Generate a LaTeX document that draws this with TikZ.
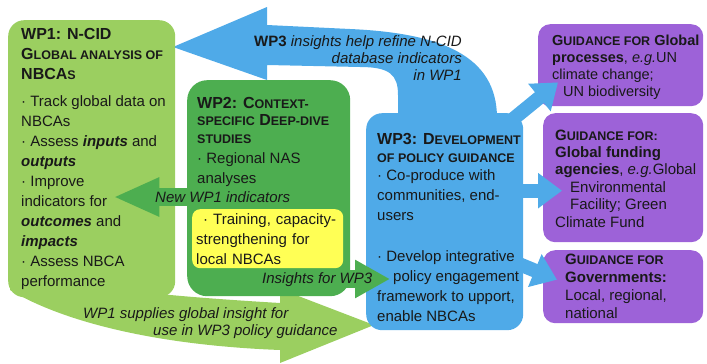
\documentclass[tikz,border=0pt]{standalone}
\usepackage{fontspec}
\setmainfont{Liberation Sans}
\usetikzlibrary{arrows.meta,calc}
\pgfdeclarelayer{background}
\pgfsetlayers{background,main}

\definecolor{wpone}{RGB}{155,207,96}
\definecolor{wptwo}{RGB}{77,174,80}
\definecolor{wpthree}{RGB}{79,170,232}
\definecolor{guide}{RGB}{157,98,216}
\definecolor{hilite}{RGB}{255,255,85}
\definecolor{ink}{RGB}{25,25,25}
\newcommand\smcaps[1]{{\fontsize{12.5}{12}\selectfont\MakeUppercase{#1}}}
\newcommand\wphead[1]{{\fontsize{16}{20}\selectfont\bfseries #1}}

\begin{document}
\begin{tikzpicture}[x=1pt,y=-1pt,
  box/.style={rounded corners=16pt,inner sep=0pt,anchor=north west},
  txt/.style={anchor=base west,align=left,inner sep=0pt,text=ink,font=\fontsize{15}{20}\selectfont},
  flow/.style={anchor=base west,align=left,inner sep=0pt,text=ink,font=\fontsize{15}{17}\selectfont\itshape},
  bluearr/.style={draw=wpthree,line width=14pt,-{Triangle[length=24pt,width=34pt]}},
  greenarr/.style={draw=wptwo,line width=18pt,-{Triangle[length=46pt,width=36pt]}}]
\useasboundingbox (0,0) rectangle (707,364);

\node[box,fill=wpone,minimum width=167,minimum height=277] (wp1) at (8,20) {};
\node[box,fill=wptwo,rounded corners=20pt,minimum width=163,minimum height=216] (wp2) at (187,80) {};
\node[box,fill=wpthree,minimum width=157,minimum height=217] (wp3) at (366,113) {};
\node[box,fill=guide,rounded corners=12pt,minimum width=165,minimum height=82] (p1) at (538,24) {};
\node[box,fill=guide,rounded corners=12pt,minimum width=160,minimum height=129] (p2) at (543,113) {};
\node[box,fill=guide,rounded corners=12pt,minimum width=160,minimum height=73] (p3) at (543,250) {};
\node[box,fill=hilite,rounded corners=8pt,minimum width=151,minimum height=59,
  inner xsep=4pt,text width=143pt,align=left,text=ink,font=\fontsize{15}{20}\selectfont] (train) at (192,209)
  {\hspace{7pt}· Training, capacity-\\strengthening for\\local NBCAs};

\begin{pgfonlayer}{background}
\fill[wpthree] (173,47) -- (267,7) -- (267,25) -- (350,29) .. controls (440,33) and (497,55) .. (497,118)
  -- (398,118) -- (398,95) .. controls (398,75) and (390,67) .. (360,67) -- (267,65) -- (267,80) -- cycle;
\fill[wpone] (10,280) -- (10,290) .. controls (60,320) and (150,345) .. (280,350) -- (280,363) -- (374,325)
  -- (280,289) -- (280,303) .. controls (230,300) and (190,297) .. (160,294) -- (160,280) -- cycle;
\end{pgfonlayer}

\draw[greenarr] ($(wp2.north west)+(18,117)$) -- ($(wp1.north east)+(-62,177)$);
\draw[greenarr,-{Triangle[length=35pt,width=36pt]}] ($(wp2.north east)+(-20,199)$) -- ($(wp3.north west)+(24,166)$);
\draw[bluearr] ($(wp3.north east)+(-20,14)$) -- ($(p1.south west)+(20,-24)$);
\draw[bluearr] ($(wp3.east)+(-10,-31)$) -- ($(p2.west)+(19,13)$);
\draw[bluearr] ($(wp3.east)+(-10,40)$) -- ($(p3.west)+(14,-7)$);

\node[txt] (wp1txt) at ($(wp1.north west)+(13,266)$)
  {\wphead{WP1: N-CID}\\\wphead{G\smcaps{lobal analysis of}}\\\wphead{NBCA\smcaps{s}}\\[7pt]
   · Track global data on\\NBCAs\\· Assess \textbf{\textit{inputs}} and\\\textbf{\textit{outputs}}\\
   · Improve\\indicators for\\\textbf{\textit{outcomes}} and\\\textbf{\textit{impacts}}\\
   · Assess NBCA\\performance};
\node[txt] (wp2txt) at ($(wp2.north west)+(10,103)$)
  {\wphead{WP2: C\smcaps{ontext-}}\\[-2.5pt]\wphead{\smcaps{specific} D\smcaps{eep-dive}}\\[-2.5pt]\wphead{\smcaps{studies}}\\
   · Regional NAS\\analyses};
\node[txt] (wp3txt) at ($(wp3.north west)+(11,208)$)
  {\wphead{WP3: D\smcaps{evelopment}}\\[-2pt]\wphead{\smcaps{of policy guidance}}\\[-2pt]
   · Co-produce with\\communities, end-\\users\\[21pt]
   · Develop integrative\\\hspace{16pt}policy engagement\\framework to upport,\\enable NBCAs};
\node[txt,font=\fontsize{14.5}{17}\selectfont] (p1txt) at ($(p1.north west)+(14,72)$)
  {\textbf{G\smcaps{uidance for} Global}\\\textbf{processes}, \textit{e.g.}UN\\climate change;\\\hspace{11pt}UN biodiversity};
\node[txt,font=\fontsize{15}{17.4}\selectfont] (p2txt) at ($(p2.north west)+(12,114)$)
  {\textbf{G\smcaps{uidance for:}}\\\textbf{Global funding}\\\textbf{agencies}, \textit{e.g.}Global\\
   \hspace{15pt}Environmental\\\hspace{15pt}Facility; Green\\Climate Fund};
\node[txt,font=\fontsize{15}{17.7}\selectfont] (p3txt) at ($(p3.north west)+(22,68)$)
  {\textbf{G\smcaps{uidance for}}\\\textbf{Governments:}\\Local, regional,\\national};

\node[flow,align=right,anchor=base east] (backlbl) at (462,80)
  {\textbf{\upshape WP3} insights help refine N-CID\hspace{47pt}\\database indicators\\in WP1};
\node[flow] (newlbl) at (155,202) {New WP1 indicators};
\node[flow] (inslbl) at (262,283) {Insights for WP3};
\node[flow] (supplbl) at (83,335) {WP1 supplies global insight for\\\hspace{70pt}use in WP3 policy guidance};
\end{tikzpicture}
\end{document}
